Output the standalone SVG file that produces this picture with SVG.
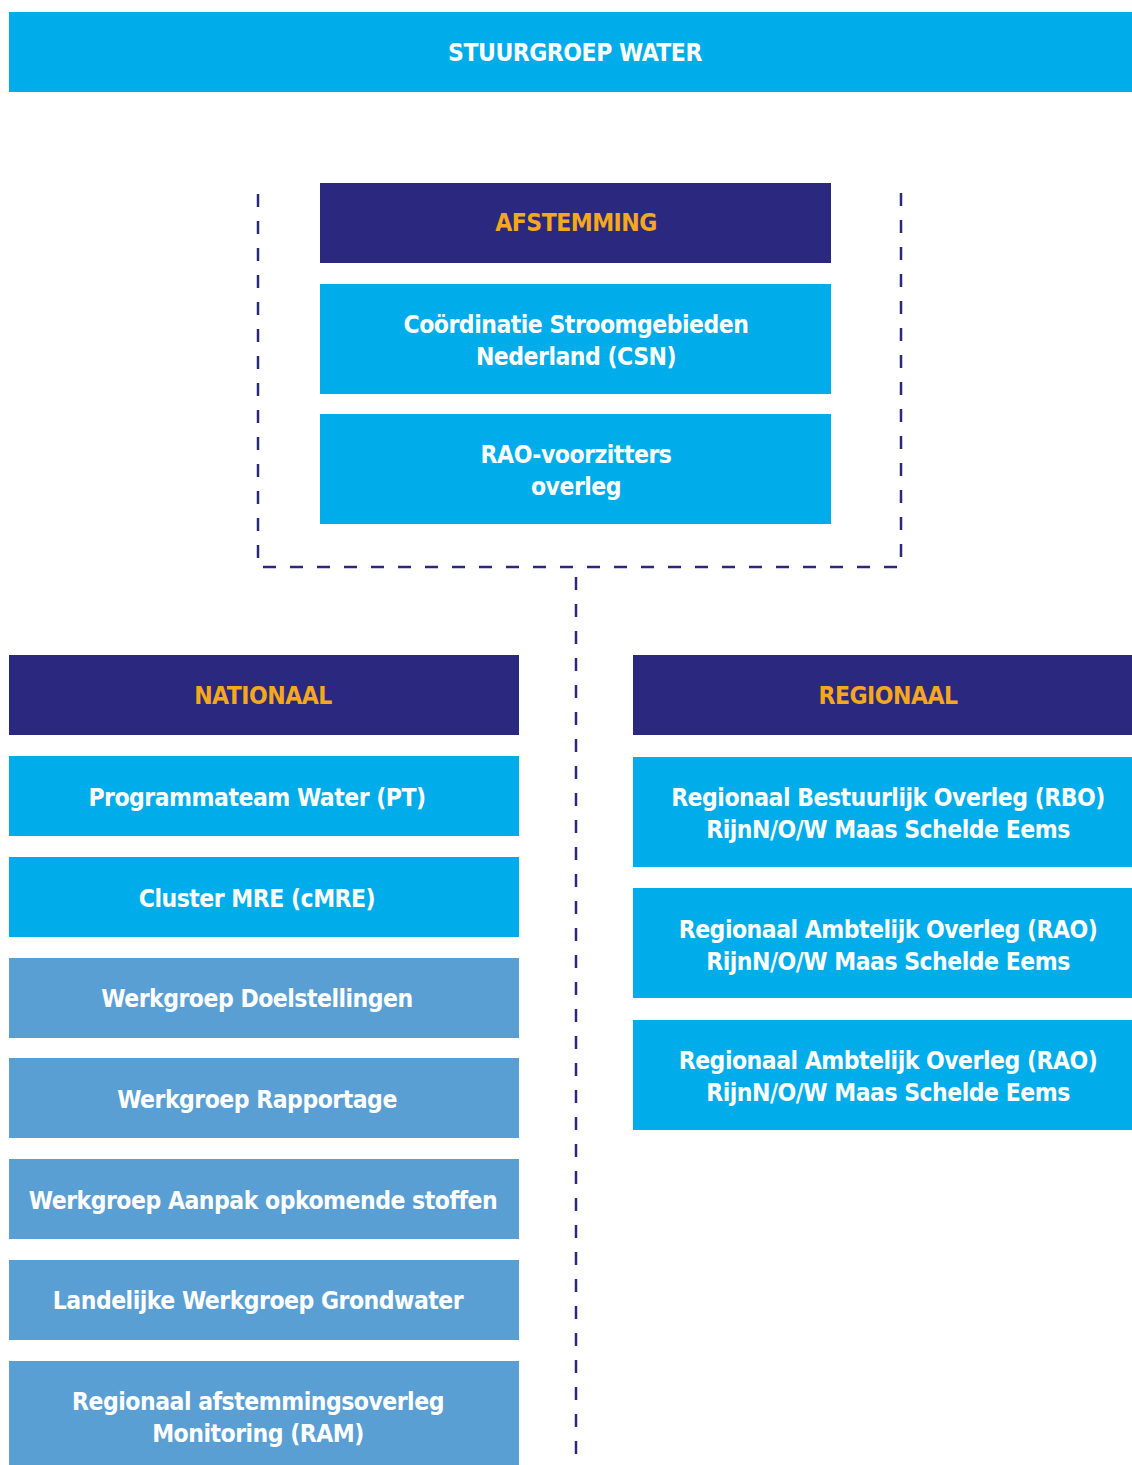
<svg xmlns="http://www.w3.org/2000/svg" width="1132" height="1465" viewBox="0 0 1132 1465">
<style>
.cyan{fill:#00ADEA}
.navy{fill:#2B2880}
.lb{fill:#5A9FD4}
text{font-family:"DejaVu Sans Condensed","DejaVu Sans",sans-serif;font-weight:bold;font-size:24.5px;letter-spacing:-0.5px;text-anchor:middle;fill:#FFFFFF}
.hd{fill:#F5A81C}
.dash{fill:none;stroke:#2B2880;stroke-width:2.5;stroke-dasharray:13 14}
</style>
<rect width="1132" height="1465" fill="#FFFFFF"/>
<g id="connectors">
<path class="dash" d="M258,194 V567 H901 V183"/>
<path class="dash" d="M576,577 V1470"/>
</g>
<g id="stuurgroep"><rect class="cyan" x="9" y="12" width="1123" height="80"/><text x="575" y="61">STUURGROEP WATER</text></g>
<g id="afstemming"><rect class="navy" x="320" y="183" width="511" height="80"/><text class="hd" x="576" y="231">AFSTEMMING</text></g>
<g id="csn"><rect class="cyan" x="320" y="284" width="511" height="110"/><text x="576" y="333">Coördinatie Stroomgebieden</text><text x="576" y="365">Nederland (CSN)</text></g>
<g id="rao-voorzitters"><rect class="cyan" x="320" y="414" width="511" height="110"/><text x="576" y="463">RAO-voorzitters</text><text x="576" y="495">overleg</text></g>
<g id="nationaal"><rect class="navy" x="9" y="655" width="510" height="80"/><text class="hd" x="263" y="704">NATIONAAL</text></g>
<g id="pt"><rect class="cyan" x="9" y="756" width="510" height="80"/><text x="257" y="806">Programmateam Water (PT)</text></g>
<g id="cmre"><rect class="cyan" x="9" y="857" width="510" height="80"/><text x="257" y="907">Cluster MRE (cMRE)</text></g>
<g id="doelstellingen"><rect class="lb" x="9" y="958" width="510" height="80"/><text x="257" y="1007">Werkgroep Doelstellingen</text></g>
<g id="rapportage"><rect class="lb" x="9" y="1058" width="510" height="80"/><text x="257" y="1108">Werkgroep Rapportage</text></g>
<g id="opkomende"><rect class="lb" x="9" y="1159" width="510" height="80"/><text x="263" y="1209">Werkgroep Aanpak opkomende stoffen</text></g>
<g id="grondwater"><rect class="lb" x="9" y="1260" width="510" height="80"/><text x="258" y="1309">Landelijke Werkgroep Grondwater</text></g>
<g id="ram"><rect class="lb" x="9" y="1361" width="510" height="104"/><text x="258" y="1410">Regionaal afstemmingsoverleg</text><text x="258" y="1442">Monitoring (RAM)</text></g>
<g id="regionaal"><rect class="navy" x="633" y="655" width="499" height="80"/><text class="hd" x="888" y="704">REGIONAAL</text></g>
<g id="rbo"><rect class="cyan" x="633" y="757" width="499" height="110"/><text x="888" y="806">Regionaal Bestuurlijk Overleg (RBO)</text><text x="888" y="838">RijnN/O/W Maas Schelde Eems</text></g>
<g id="rao1"><rect class="cyan" x="633" y="888" width="499" height="110"/><text x="888" y="938">Regionaal Ambtelijk Overleg (RAO)</text><text x="888" y="970">RijnN/O/W Maas Schelde Eems</text></g>
<g id="rao2"><rect class="cyan" x="633" y="1020" width="499" height="110"/><text x="888" y="1069">Regionaal Ambtelijk Overleg (RAO)</text><text x="888" y="1101">RijnN/O/W Maas Schelde Eems</text></g>
</svg>
